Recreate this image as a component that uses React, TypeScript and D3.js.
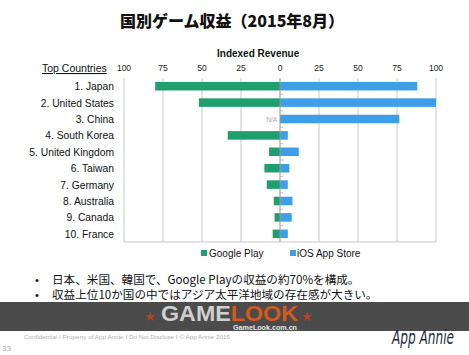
import React from "react";
import * as d3 from "d3";

const countries = ["1. Japan", "2. United States", "3. China", "4. South Korea", "5. United Kingdom", "6. Taiwan", "7. Germany", "8. Australia", "9. Canada", "10. France"];
const googlePlay: (number | null)[] = [80, 52, null, 33.5, 7, 10, 8.5, 4, 3.5, 4.7];
const iosStore: number[] = [88, 100, 76.5, 5, 12, 6, 5, 8, 7.5, 5];
const ticks = [0, 25, 50, 75, 100];
const bullets = [
  "日本、米国、韓国で、Google Playの収益の約70%を構成。",
  "収益上位10か国の中ではアジア太平洋地域の存在感が大きい。",
];

const W = 469, H = 355;
const GREEN = "#1f9e6f";
const BLUE = "#3d9fe8";
const GRID = "#c9c9c9";
const SANS = "'Liberation Sans', Arial, Helvetica, sans-serif";
const CJK = "'Noto Sans CJK JP', 'Noto Sans', sans-serif";

export default function App() {
  const x0 = 280;
  const left = d3.scaleLinear().domain([0, 100]).range([x0, 124]);
  const right = d3.scaleLinear().domain([0, 100]).range([x0, 436]);
  const y = d3.scaleBand().domain(countries).range([78, 242]).paddingInner(0.48).paddingOuter(0.24);
  const row = d3.scaleBand().domain(countries).range([78, 242]);
  const top = 78, bottom = 242;

  return (
    <svg width={W} height={H} style={{ position: "absolute", left: 0, top: 0, background: "#fff" }}>
      <rect x={0} y={0} width={W} height={H} fill="#fff" />
      <text x={232} y={27} textAnchor="middle" fontFamily={CJK} fontWeight={900} fontSize={16} fill="#111">
        国別ゲーム収益（2015年8月）
      </text>
      <text x={217} y={57} fontFamily={SANS} fontWeight="bold" fontSize={10} fill="#111">Indexed Revenue</text>

      {/* gridlines */}
      {ticks.filter(t => t > 0).map(t => (
        <g key={t}>
          <line x1={left(t)} x2={left(t)} y1={top} y2={bottom} stroke={GRID} strokeWidth={1} />
          <line x1={right(t)} x2={right(t)} y1={top} y2={bottom} stroke={GRID} strokeWidth={1} />
        </g>
      ))}
      <line x1={left(100)} x2={right(100)} y1={bottom} y2={bottom} stroke={GRID} strokeWidth={1} />

      {/* tick labels */}
      {ticks.map(t => (
        <g key={"l" + t}>
          {t > 0 && <text x={left(t)} y={71} textAnchor="middle" fontFamily={SANS} fontSize={8.5} fill="#222">{t}</text>}
          <text x={right(t)} y={71} textAnchor="middle" fontFamily={SANS} fontSize={8.5} fill="#222">{t}</text>
        </g>
      ))}

      <text x={42} y={72} fontFamily={SANS} fontSize={10.5} fill="#111" textDecoration="underline">Top Countries</text>

      {/* bars */}
      {countries.map((c, i) => {
        const g = googlePlay[i];
        const yy = y(c)!;
        const bh = y.bandwidth();
        return (
          <g key={c}>
            <text x={114} y={row(c)! + row.bandwidth() / 2 + 4} textAnchor="end" fontFamily={SANS} fontSize={10.3} fill="#111">{c}</text>
            {g != null ? (
              <rect x={left(g)} y={yy} width={x0 - left(g)} height={bh} fill={GREEN} />
            ) : (
              <text x={277} y={yy + bh / 2 + 2.5} textAnchor="end" fontFamily={SANS} fontSize={6.5} fill="#aaa">N/A</text>
            )}
            <rect x={x0} y={yy} width={right(iosStore[i]) - x0} height={bh} fill={BLUE} />
          </g>
        );
      })}

      {/* zero axis */}
      <line x1={x0} x2={x0} y1={top} y2={bottom} stroke="#999" strokeWidth={1} />
      {countries.slice(1).map(c => (
        <line key={"t" + c} x1={x0} x2={x0 + 3} y1={row(c)!} y2={row(c)!} stroke="#bbb" strokeWidth={1} />
      ))}

      {/* legend */}
      <rect x={201} y={250} width={6} height={6} fill={GREEN} />
      <text x={209} y={256.5} fontFamily={SANS} fontSize={10} fill="#111">Google Play</text>
      <rect x={290} y={250} width={6} height={6} fill={BLUE} />
      <text x={297} y={256.5} fontFamily={SANS} fontSize={10} fill="#111">iOS App Store</text>

      {/* bullets */}
      {bullets.map((b, i) => (
        <g key={i}>
          <text x={35} y={283.5 + i * 15} fontFamily={SANS} fontSize={11} fill="#111">•</text>
          <text x={52} y={283.5 + i * 15} fontFamily={CJK} fontSize={11.6} fill="#111">{b}</text>
        </g>
      ))}

      {/* watermark band */}
      <rect x={0} y={302} width={W} height={29} fill="#4b4b4b" />
      <text x={150} y={321} textAnchor="middle" fontFamily={SANS} fontSize={13} fill="#b4461c">★</text>
      <text x={307} y={321} textAnchor="middle" fontFamily={SANS} fontSize={13} fill="#b4461c">★</text>
      <text x={161} y={321} fontFamily={SANS} fontWeight="bold" fontSize={22} textLength={137} lengthAdjust="spacingAndGlyphs">
        <tspan fill="#cfcfcf">GAME</tspan><tspan fill="#d35a1f">LOOK</tspan>
      </text>
      <text x={233} y={330} fontFamily={SANS} fontWeight="bold" fontSize={7.5} fill="#e8e8e8" textLength={64} lengthAdjust="spacingAndGlyphs">GameLook.com.cn</text>

      {/* footer */}
      <text x={24} y={339} fontFamily={SANS} fontSize={6} fill="#b0b0b0" textLength={206} lengthAdjust="spacingAndGlyphs">
        Confidential  I  Property of App Annie  I  Do Not Disclose  I  © App Annie 2015
      </text>
      <text x={2} y={351} fontFamily={SANS} fontSize={8} fill="#aaa">33</text>
      <text x={392} y={344} fontFamily="'DejaVu Sans Condensed', 'Liberation Sans Narrow', sans-serif" fontStyle="italic" fontSize={19} fill="#1d2a44" textLength={62} lengthAdjust="spacingAndGlyphs">App Annie</text>
    </svg>
  );
}
